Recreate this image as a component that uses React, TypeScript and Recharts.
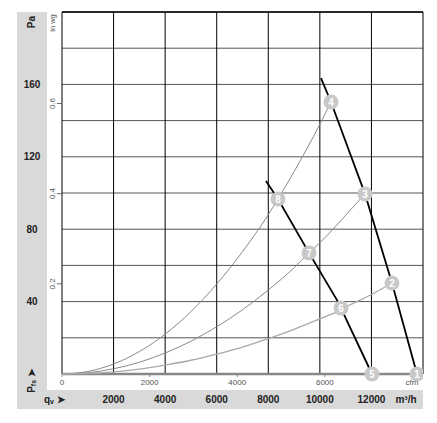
import React from 'react';
import { ComposedChart, Line, Scatter, XAxis, YAxis, CartesianGrid, ReferenceLine } from 'recharts';

// axis ticks
const m3Ticks = [0, 2000, 4000, 6000, 8000, 10000, 12000];
const cfmTicks = [0, 2000, 4000, 6000];
const paTicks = [0, 20, 40, 60, 80, 100, 120, 140, 160, 180, 200];
const paLabels = [40, 80, 120, 160];
const inwgTicks = [0.2, 0.4, 0.6];

// system curves (m3/h, Pa)
const sysAFlow = [0, 1000, 2000, 3000, 4000, 5000, 6000, 7000, 8000, 8376, 9000, 10000, 10432];
const sysAPa = [0, 1.4, 5.5, 12.4, 22, 34.5, 49.7, 67.6, 88, 96.7, 111.8, 138, 150.3];
const sysBFlow = [0, 1000, 2000, 3000, 4000, 5000, 6000, 7000, 8000, 9000, 9579, 10000, 11000, 11750];
const sysBPa = [0, 0.7, 2.9, 6.5, 11.6, 18.1, 26.1, 35.5, 46.4, 58.7, 66.9, 72.5, 87.7, 99.5];
const sysCFlow = [0, 1000, 2000, 3000, 4000, 5000, 6000, 7000, 8000, 9000, 10000, 10820, 11000, 12000, 12797];
const sysCPa = [0, 0.3, 1.2, 2.7, 4.9, 7.6, 11, 14.9, 19.5, 24.7, 30.5, 35.4, 36.9, 43.9, 50.3];

// fan curves
const highFlow = [10044, 10432, 11750, 12797, 13767];
const highPa = [163.5, 150.3, 99.5, 50.3, 0];
const lowFlow = [7911, 8376, 9579, 10700, 12022];
const lowPa = [106.6, 96.7, 66.9, 40, 0];

// numbered operating points
const markerIds = [1, 2, 3, 4, 5, 6, 7, 8];
const markerFlow = [13767, 12797, 11750, 10432, 12022, 10820, 9579, 8376];
const markerPa = [0, 50.3, 99.5, 150.3, 0, 36.4, 66.9, 96.7];

const M3_PER_CFM = 1.69901;
const PA_PER_INWG = 249.089;

const toPoints = (xs: number[], ys: number[]) => xs.map((x, i) => ({ x, y: ys[i] }));
const markers = markerIds.map((n, i) => ({ x: markerFlow[i], y: markerPa[i], n }));
// invisible anchors so the secondary unit axes get drawn
const cfmAnchors = cfmTicks.map((c) => ({ c, y: 0 }));
const inwgAnchors = inwgTicks.map((w) => ({ x: 0, w }));

const FONT = 'Liberation Sans, Arial, sans-serif';

const M3Tick = ({ x, payload }: any) =>
  payload.value === 0 ? <g /> : (
    <text x={x} y={403} textAnchor="middle" fontSize={10} fontWeight="bold" fill="#222" fontFamily={FONT}>
      {payload.value}
    </text>
  );

const CfmTick = ({ x, payload }: any) => (
  <g>
    <line x1={x} x2={x} y1={374} y2={377} stroke="#888" />
    <text x={x} y={385} textAnchor="middle" fontSize={8} fill="#555" fontFamily={FONT}>
      {payload.value}
    </text>
  </g>
);

const PaTick = ({ y, payload }: any) =>
  paLabels.includes(payload.value) ? (
    <text x={32} y={y + 3.5} textAnchor="middle" fontSize={10} fontWeight="bold" fill="#222" fontFamily={FONT}>
      {payload.value}
    </text>
  ) : <g />;

const InwgTick = ({ y, payload }: any) => (
  <g>
    <line x1={57} x2={62} y1={y} y2={y} stroke="#666" />
    <text x={55} y={y} transform={`rotate(-90 55 ${y})`} textAnchor="middle" fontSize={8} fill="#555" fontFamily={FONT}>
      {payload.value}
    </text>
  </g>
);

const Marker = (props: any) => {
  const { cx, cy, payload } = props;
  return (
    <g clipPath="url(#plotRight)">
      <circle cx={cx} cy={cy} r={7.5} fill="#c8c8c8" />
      <text x={cx} y={cy + 3.6} textAnchor="middle" fontSize={10} fontWeight="bold" fill="#fff" fontFamily={FONT}>
        {payload.n}
      </text>
    </g>
  );
};

const App = () => {
  return (
    <div style={{ position: 'absolute', left: 0, top: 0, width: 437, height: 423, background: '#fff', fontFamily: FONT }}>
      <svg width={437} height={423} style={{ position: 'absolute', left: 0, top: 0 }}>
        <defs>
          <clipPath id="plotRight">
            <rect x={0} y={0} width={423} height={423} />
          </clipPath>
        </defs>
        <rect x={17} y={12} width={30} height={397} fill="#d9d9d9" />
        <rect x={17} y={390} width={406} height={19} fill="#d9d9d9" />
        <text x={31} y={22} transform="rotate(-90 31 22)" textAnchor="middle" dominantBaseline="central" fontSize={10} fontWeight="bold" fill="#222">Pa</text>
        <text x={31} y={381} transform="rotate(-90 31 381)" textAnchor="middle" dominantBaseline="central" fontSize={10} fontWeight="bold" fill="#222">
          P<tspan fontSize={7} dy={2}>fs</tspan><tspan dy={-2}> ➤</tspan>
        </text>
        <text x={44} y={403} fontSize={10} fontWeight="bold" fill="#222">
          q<tspan fontSize={7} dy={1}>v</tspan><tspan dy={-1}>  ➤</tspan>
        </text>
        <text x={406} y={403} textAnchor="middle" fontSize={10} fontWeight="bold" fill="#222">
          m³/h
        </text>
        <text x={55} y={23} transform="rotate(-90 55 23)" textAnchor="middle" fontSize={7.5} fill="#555">in wg</text>
        <text x={412} y={385} textAnchor="middle" fontSize={8} fill="#555">cfm</text>
      </svg>
      <div style={{ position: 'absolute', left: 0, top: 0 }}>
        <ComposedChart width={437} height={423} margin={{ top: 12, right: 14, bottom: 14, left: 17 }}>
          <XAxis xAxisId="cfm" dataKey="c" type="number" domain={[0, 14000 / M3_PER_CFM]} ticks={cfmTicks}
            height={16} axisLine={false} tickLine={false} tick={<CfmTick />} interval={0} />
          <XAxis xAxisId="m3" dataKey="x" type="number" domain={[0, 14000]} ticks={m3Ticks}
            height={19} axisLine={false} tickLine={false} tick={<M3Tick />} interval={0} />
          <YAxis yAxisId="inwg" dataKey="w" type="number" domain={[0, 200 / PA_PER_INWG]} ticks={inwgTicks}
            width={15} axisLine={false} tickLine={false} tick={<InwgTick />} interval={0} />
          <YAxis yAxisId="pa" dataKey="y" type="number" domain={[0, 200]} ticks={paTicks}
            width={30} axisLine={false} tickLine={false} tick={<PaTick />} interval={0} />
          <CartesianGrid xAxisId="m3" yAxisId="pa" vertical={false} stroke="#555" strokeWidth={1} />
          <CartesianGrid xAxisId="m3" yAxisId="pa" horizontal={false} stroke="#000" strokeWidth={1} />
          <ReferenceLine xAxisId="m3" yAxisId="pa" y={200} stroke="#000" strokeWidth={1.5} />
          <ReferenceLine xAxisId="m3" yAxisId="pa" y={0} stroke="#888" strokeWidth={2.5} />
          <Line xAxisId="cfm" yAxisId="pa" data={cfmAnchors} dataKey="y" stroke="none" dot={false} legendType="none" isAnimationActive={false} />
          <Line xAxisId="m3" yAxisId="inwg" data={inwgAnchors} dataKey="w" stroke="none" dot={false} legendType="none" isAnimationActive={false} />
          <Line xAxisId="m3" yAxisId="pa" data={toPoints(sysAFlow, sysAPa)} dataKey="y" type="monotone" stroke="#8a8a8a" strokeWidth={1} dot={false} isAnimationActive={false} />
          <Line xAxisId="m3" yAxisId="pa" data={toPoints(sysBFlow, sysBPa)} dataKey="y" type="monotone" stroke="#8a8a8a" strokeWidth={1} dot={false} isAnimationActive={false} />
          <Line xAxisId="m3" yAxisId="pa" data={toPoints(sysCFlow, sysCPa)} dataKey="y" type="monotone" stroke="#aaa" strokeWidth={1.3} dot={false} isAnimationActive={false} />
          <Line xAxisId="m3" yAxisId="pa" data={toPoints(highFlow, highPa)} dataKey="y" type="linear" stroke="#000" strokeWidth={1.8} dot={false} isAnimationActive={false} />
          <Line xAxisId="m3" yAxisId="pa" data={toPoints(lowFlow, lowPa)} dataKey="y" type="linear" stroke="#000" strokeWidth={1.8} dot={false} isAnimationActive={false} />
          <Scatter xAxisId="m3" yAxisId="pa" data={markers} dataKey="y" shape={<Marker />} isAnimationActive={false} />
        </ComposedChart>
      </div>
    </div>
  );
};

export default App;
